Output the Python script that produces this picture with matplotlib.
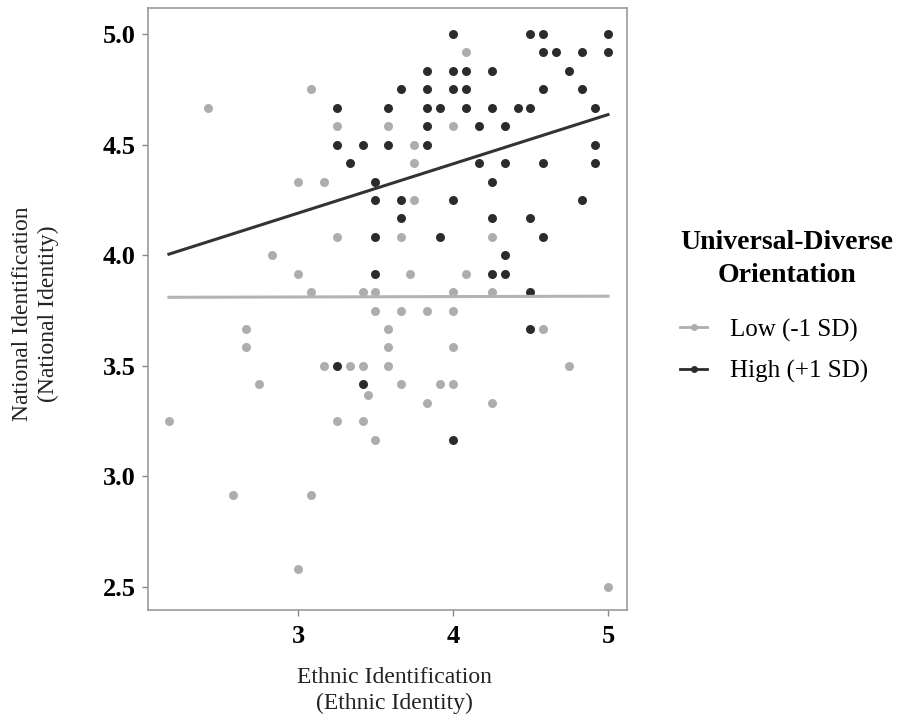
import matplotlib
matplotlib.use("Agg")
import matplotlib.pyplot as plt
from matplotlib.lines import Line2D

# data (scores on a 1/12 grid)
low_x = [3.083, 2.417, 3.25, 3.583, 4.0, 4.083, 3.75, 3.75, 3.0, 3.167,
         3.75, 3.25, 2.833, 3.0, 3.083, 3.417, 3.5, 3.5, 2.667, 3.583,
         2.667, 3.583, 3.167, 3.333, 3.417, 3.583, 2.75, 3.45, 3.667, 4.25,
         3.72, 4.083, 4.0, 4.25, 3.667, 3.833, 4.0, 4.583, 4.0, 4.75,
         3.667, 3.917, 4.0, 3.833, 4.25, 2.167, 3.25, 3.417, 3.5, 2.583,
         3.083, 3.0, 5.0]
low_y = [4.75, 4.667, 4.583, 4.583, 4.583, 4.917, 4.5, 4.417, 4.333, 4.333,
         4.25, 4.083, 4.0, 3.917, 3.833, 3.833, 3.833, 3.75, 3.667, 3.667,
         3.583, 3.583, 3.5, 3.5, 3.5, 3.5, 3.417, 3.367, 4.083, 4.083,
         3.917, 3.917, 3.833, 3.833, 3.75, 3.75, 3.75, 3.667, 3.583, 3.5,
         3.417, 3.417, 3.417, 3.333, 3.333, 3.25, 3.25, 3.25, 3.167, 2.917,
         2.917, 2.583, 2.5]

high_x = [4.0, 4.5, 4.583, 5.0,
          4.583, 4.667, 4.833, 5.0,
          3.833, 4.0, 4.083, 4.25, 4.75,
          3.667, 3.833, 4.0, 4.083, 4.583, 4.833,
          3.25, 3.583, 3.833, 3.917, 4.083, 4.25, 4.417, 4.5, 4.917,
          3.833, 4.167, 4.333,
          3.25, 3.417, 3.583, 3.833, 4.917,
          3.333, 4.167, 4.333, 4.583, 4.917,
          3.5, 4.25,
          3.5, 3.667, 4.0, 4.833,
          3.667, 4.25, 4.5,
          3.5, 3.917, 4.583,
          4.333,
          3.5, 4.25, 4.333,
          4.5, 4.5, 3.25, 3.417, 4.0]
high_y = [5.0, 5.0, 5.0, 5.0,
          4.917, 4.917, 4.917, 4.917,
          4.833, 4.833, 4.833, 4.833, 4.833,
          4.75, 4.75, 4.75, 4.75, 4.75, 4.75,
          4.667, 4.667, 4.667, 4.667, 4.667, 4.667, 4.667, 4.667, 4.667,
          4.583, 4.583, 4.583,
          4.5, 4.5, 4.5, 4.5, 4.5,
          4.417, 4.417, 4.417, 4.417, 4.417,
          4.333, 4.333,
          4.25, 4.25, 4.25, 4.25,
          4.167, 4.167, 4.167,
          4.083, 4.083, 4.083,
          4.0,
          3.917, 3.917, 3.917,
          3.833, 3.667, 3.5, 3.417, 3.167]

# fitted lines (end points)
line_x = [2.167, 5.0]
low_line_y = [3.81, 3.815]
high_line_y = [4.005, 4.636]

x_ticks = [3, 4, 5]
y_ticks = [2.5, 3.0, 3.5, 4.0, 4.5, 5.0]

LOW_COL = "#adadad"
HIGH_COL = "#2b2b2b"

plt.rcParams['font.family'] = ['Liberation Serif', 'DejaVu Serif']

fig = plt.figure(figsize=(9.09, 7.22), dpi=100)
ax = fig.add_axes([0.1628, 0.1551, 0.527, 0.8338])

ax.scatter(low_x, low_y, s=42, color=LOW_COL, linewidths=0, zorder=2)
ax.scatter(high_x, high_y, s=42, color=HIGH_COL, linewidths=0, zorder=2)
ax.plot(line_x, low_line_y, color="#b3b3b3", lw=2.2, zorder=3)
ax.plot(line_x, high_line_y, color="#333333", lw=2.2, zorder=3)

ax.set_xlim(2.032, 5.123)
ax.set_ylim(2.396, 5.118)
ax.set_xticks(x_ticks)
ax.set_xticklabels([str(t) for t in x_ticks])
ax.set_yticks(y_ticks)
ax.set_yticklabels([f"{t:.1f}" for t in y_ticks])
for lab in ax.get_xticklabels() + ax.get_yticklabels():
    lab.set_fontweight('bold')
    lab.set_fontsize(19)
ax.tick_params(axis='both', length=4, width=1, color="#888888", pad=5)
ax.tick_params(axis='x', pad=7)
for sp in ax.spines.values():
    sp.set_color("#999999")
    sp.set_linewidth(1.2)

fig.text(0.434, 0.044, "Ethnic Identification\n(Ethnic Identity)", ha='center',
         va='center', fontsize=17, linespacing=1.3, color="#222222")
fig.text(0.0395, 0.565, "National Identification\n(National Identity)", ha='center',
         va='center', rotation=90, fontsize=17, linespacing=1.3, color="#222222")

# legend
fig.text(0.866, 0.641, "Universal-Diverse\nOrientation", ha='center', va='center',
         fontsize=20, fontweight='bold', linespacing=1.4)
handles = [
    Line2D([], [], color=LOW_COL, lw=2, marker='o', markersize=4),
    Line2D([], [], color=HIGH_COL, lw=2, marker='o', markersize=4),
]
fig.legend(handles, ["Low (-1 SD)", "High (+1 SD)"], loc='center left',
           bbox_to_anchor=(0.748, 0.514), frameon=False, fontsize=18,
           handlelength=1.1, handletextpad=0.9, labelspacing=0.75,
           borderaxespad=0, borderpad=0)

fig.savefig("out.png", dpi=100)
